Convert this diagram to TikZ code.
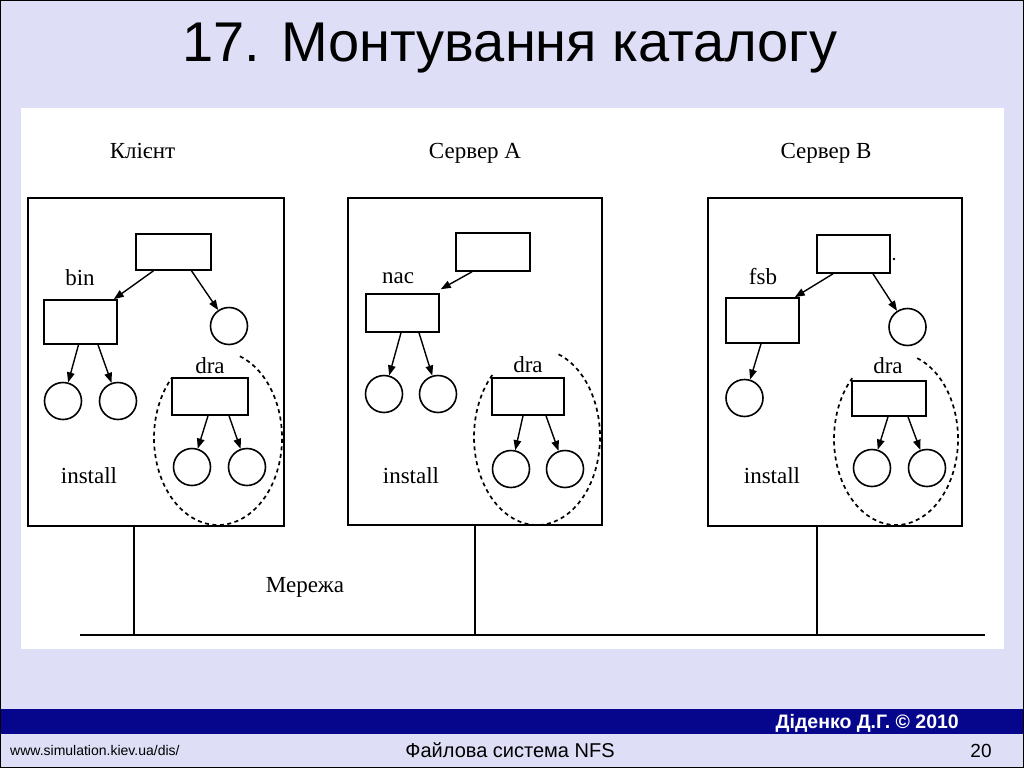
\documentclass[tikz,border=0pt]{standalone}
\usepackage{fontspec}
\setmainfont{Liberation Serif}
\newfontfamily\sansfam{Liberation Sans}
\usetikzlibrary{arrows.meta,calc}
\definecolor{slidebg}{RGB}{222,222,247}
\definecolor{barblue}{RGB}{6,6,140}
\begin{document}
\begin{tikzpicture}[x=1pt,y=-1pt,
  hostbox/.style={draw, line width=2pt, inner sep=0pt},
  dirbox/.style={draw, line width=1.6pt, inner sep=0pt, minimum width=74pt, minimum height=37pt},
  leafnode/.style={draw, circle, line width=1.6pt, inner sep=0pt, minimum size=37pt},
  arrowline/.style={line width=1.4pt, -{Triangle[length=10pt,width=7.5pt]}},
  labeltext/.style={font=\fontsize{23}{23}\selectfont, anchor=base, inner sep=0pt},
  mountarc/.style={line width=1.7pt, dash pattern=on 4pt off 3.5pt},
  netline/.style={line width=1.8pt},
]
% background
\fill[slidebg] (0,0) rectangle (1024,768);
\useasboundingbox (0,0) rectangle (1024,768);
\fill[white] (21,108) rectangle (1004,649);
\fill[barblue] (0,709) rectangle (1024,734);
\draw[line width=1pt] (0.5,0.5) rectangle (1023.5,767.5);

% title
\node[font=\sansfam\fontsize{56}{60}\selectfont, anchor=base, inner sep=0pt] (title) at (510,61) {17. Монтування каталогу};

% footer
\node[font=\sansfam\bfseries\fontsize{19.5}{20}\selectfont, text=white, anchor=base east, inner sep=0pt] (author) at (959,728) {Діденко Д.Г. © 2010};
\node[font=\sansfam\fontsize{14}{14}\selectfont, anchor=base west, inner sep=0pt] (url) at (10,755) {www.simulation.kiev.ua/dis/};
\node[font=\sansfam\fontsize{20}{20}\selectfont, anchor=base, inner sep=0pt] (subject) at (510,757) {Файлова система NFS};
\node[font=\sansfam\fontsize{19}{19}\selectfont, anchor=base, inner sep=0pt] (pageno) at (981,757) {20};

% ---------- host boxes ----------
\node[hostbox, minimum width=256pt, minimum height=328pt] (client) at (156,362) {};
\node[hostbox, minimum width=254pt, minimum height=327pt] (srva) at (475,361.5) {};
\node[hostbox, minimum width=254pt, minimum height=328pt] (srvb) at (835,362) {};

\node[labeltext] (lclient) at (142.5,158) {Клієнт};
\node[labeltext] (lsrva) at (475,158) {Сервер A};
\node[labeltext] (lsrvb) at (826,158) {Сервер B};

% ---------- client tree ----------
\node[dirbox, minimum width=75pt, minimum height=36pt] (rootC) at (173.5,252) {};
\node[dirbox, minimum width=73pt, minimum height=44pt] (binC) at (80.5,322) {};
\node[dirbox, minimum width=76pt, minimum height=37pt] (draC) at (210,396.5) {};
\node[leafnode] (cR) at (229,326) {};
\node[leafnode] (cB1) at (63,401) {};
\node[leafnode] (cB2) at (118,401) {};
\node[leafnode] (cD1) at (192,467) {};
\node[leafnode] (cD2) at (247,467) {};
\node[labeltext] (lbin) at (80,285) {bin};
\node[labeltext] (ldraC) at (210,373) {dra};
\node[labeltext] (linstC) at (89,483) {install};

\draw[arrowline] ([xshift=-20pt]rootC.south) -- ([xshift=-4pt]binC.north east);
\draw[arrowline] ([xshift=18pt]rootC.south) -- (cR);
\draw[arrowline] ([xshift=-2pt]binC.south) -- (cB1);
\draw[arrowline] ([xshift=17.5pt]binC.south) -- (cB2);
\draw[arrowline] ([xshift=-2pt]draC.south) -- (cD1);
\draw[arrowline] ([xshift=19pt]draC.south) -- (cD2);

\coordinate (eC) at (218,438);
\draw[mountarc] ($(eC)+(-70:64 and 87)$) arc[start angle=-70, end angle=224, x radius=64, y radius=87];

% ---------- server A tree ----------
\node[dirbox, minimum width=74pt, minimum height=38pt] (rootA) at (493,252) {};
\node[dirbox, minimum width=73pt, minimum height=38pt] (nacA) at (402.5,313) {};
\node[dirbox, minimum width=72pt, minimum height=37pt] (draA) at (528,396.5) {};
\node[leafnode] (aN1) at (384,394) {};
\node[leafnode] (aN2) at (438,394) {};
\node[leafnode] (aD1) at (511,469) {};
\node[leafnode] (aD2) at (565,469) {};
\node[labeltext] (lnac) at (398,283) {nac};
\node[labeltext] (ldraA) at (528,372) {dra};
\node[labeltext] (linstA) at (411,483) {install};

\draw[arrowline] ([xshift=-21pt]rootA.south) -- ([xshift=1pt,yshift=4pt]nacA.north east);
\draw[arrowline] ([xshift=-1.5pt]nacA.south) -- (aN1);
\draw[arrowline] ([xshift=16.5pt]nacA.south) -- (aN2);
\draw[arrowline] ([xshift=-5pt]draA.south) -- (aD1);
\draw[arrowline] ([xshift=18pt]draA.south) -- (aD2);

\coordinate (eA) at (537,437);
\draw[mountarc] ($(eA)+(-70:63 and 88)$) arc[start angle=-70, end angle=225, x radius=63, y radius=88];

% ---------- server B tree ----------
\node[dirbox, minimum width=73pt, minimum height=38pt] (rootB) at (853.5,254) {};
\node[dirbox, minimum width=73pt, minimum height=45pt] (fsbB) at (762.5,320.5) {};
\node[dirbox, minimum width=74pt, minimum height=35pt] (draB) at (889,398.5) {};
\node[leafnode] (bR) at (907.5,327) {};
\node[leafnode] (bF1) at (744.5,398) {};
\node[leafnode] (bD1) at (872,468) {};
\node[leafnode] (bD2) at (927,468) {};
\node[labeltext] (lfsb) at (763,284) {fsb};
\node[labeltext] (ldraB) at (888,373) {dra};
\node[labeltext] (linstB) at (772,483) {install};
\fill (894,259) circle[radius=1.3];

\draw[arrowline] ([xshift=-20.5pt]rootB.south) -- ([xshift=-5pt]fsbB.north east);
\draw[arrowline] ([xshift=19.5pt]rootB.south) -- (bR);
\draw[arrowline] ([xshift=-1.5pt]fsbB.south) -- (bF1);
\draw[arrowline] ([xshift=-1pt]draB.south) -- (bD1);
\draw[arrowline] ([xshift=19pt]draB.south) -- (bD2);

\coordinate (eB) at (896,439);
\draw[mountarc] ($(eB)+(-70:62 and 86)$) arc[start angle=-70, end angle=225, x radius=62, y radius=86];

% ---------- network ----------
\coordinate (busL) at (80,635);
\coordinate (busR) at (985,635);
\draw[netline] (busL) -- (busR);
\coordinate (tapC) at ([xshift=-22pt]client.south);
\coordinate (tapA) at (srva.south);
\coordinate (tapB) at ([xshift=-18pt]srvb.south);
\draw[netline] (tapC) -- (tapC |- busL);
\draw[netline] (tapA) -- (tapA |- busL);
\draw[netline] (tapB) -- (tapB |- busL);
\node[labeltext] (lnet) at (305,592) {Мережа};
\end{tikzpicture}
\end{document}
